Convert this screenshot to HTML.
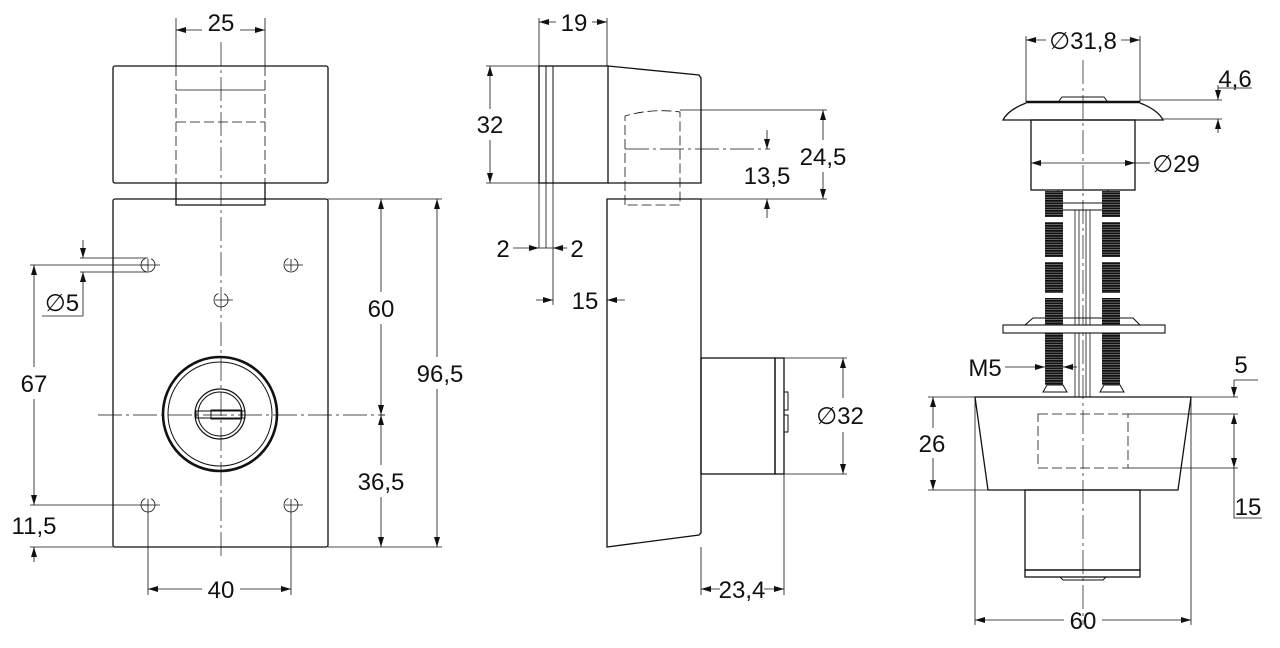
<!DOCTYPE html>
<html><head><meta charset="utf-8"><style>
html,body{margin:0;padding:0;background:#fff}
svg{display:block}
text{font-family:"Liberation Sans",Arial,sans-serif;font-size:24px;fill:#111}
</style></head><body>
<svg width="1280" height="648" viewBox="0 0 1280 648" xmlns="http://www.w3.org/2000/svg">
<defs>
<marker id="a" viewBox="0 0 10 6" refX="10" refY="3" markerWidth="10" markerHeight="6" markerUnits="userSpaceOnUse" orient="auto-start-reverse"><path d="M0,0 L10,3 L0,6 z" fill="#111"/></marker>
<pattern id="th" width="4" height="2.5" patternUnits="userSpaceOnUse"><rect width="4" height="2.5" fill="#888"/><rect width="4" height="1.8" fill="#111"/></pattern>
</defs>
<g fill="none" stroke="#111" stroke-width="1.3">
<!-- LEFT VIEW -->
<rect x="113" y="66" width="215" height="117" rx="2"/>
<rect x="113" y="199" width="215" height="348" rx="2"/>
<path d="M176 183 V205 H265 V183"/>
<path d="M176 18 V66 M265 18 V66" stroke-width="0.8"/>
<g stroke-width="0.8" stroke-dasharray="10,4">
<path d="M176 66 V183 M265 66 V183"/>
<path d="M176 122 H265"/>
</g>
<path d="M176 90 H265" stroke-width="0.8"/>
<path d="M221 42 V560 M98 415 H385" stroke-width="0.7" stroke-dasharray="24,4,3,4"/>
<g stroke-width="0.8">
<circle cx="148" cy="265" r="7" stroke-dasharray="30,6"/><path d="M142 265 H160 M148 259 V271"/>
<circle cx="291" cy="265" r="7" stroke-dasharray="30,6"/><path d="M285 265 H303 M291 259 V271"/>
<circle cx="221" cy="300" r="7" stroke-dasharray="30,6"/><path d="M215 300 H233"/>
<circle cx="148" cy="505" r="7" stroke-dasharray="30,6"/><path d="M142 505 H160 M148 499 V595"/>
<circle cx="291" cy="505" r="7" stroke-dasharray="30,6"/><path d="M285 505 H303 M291 499 V595"/>
</g>
<circle cx="220" cy="414" r="57" stroke-width="2.6"/>
<circle cx="220" cy="414" r="52" stroke-width="1"/>
<circle cx="220" cy="414" r="25" stroke-width="1.2"/>
<circle cx="220" cy="414" r="22" stroke-width="1"/>
<rect x="196" y="411" width="49" height="7" stroke-width="1"/>
<rect x="211" y="410" width="30" height="9" stroke-width="1"/>
<!-- dims left -->
<g stroke-width="0.8">
<path d="M176 30 H202 M240 30 H265" marker-start="url(#a)" marker-end="url(#a)"/>
<path d="M328 199 H442 M328 547 H442 M381 415 H385"/>
<line x1="381" y1="199" x2="381" y2="292" marker-start="url(#a)"/>
<line x1="381" y1="324" x2="381" y2="415" marker-end="url(#a)"/>
<line x1="381" y1="415" x2="381" y2="465" marker-start="url(#a)"/>
<line x1="381" y1="497" x2="381" y2="547" marker-end="url(#a)"/>
<line x1="437" y1="199" x2="437" y2="357" marker-start="url(#a)"/>
<line x1="437" y1="389" x2="437" y2="547" marker-end="url(#a)"/>
<path d="M30 265 H148 M30 505 H148 M30 547 H113"/>
<line x1="34" y1="265" x2="34" y2="367" marker-start="url(#a)"/>
<line x1="34" y1="399" x2="34" y2="505" marker-end="url(#a)"/>
<line x1="34" y1="547" x2="34" y2="562" marker-start="url(#a)"/>
<path d="M80 258 H148 M80 272 H148"/>
<line x1="83" y1="240" x2="83" y2="258" marker-end="url(#a)"/>
<line x1="83" y1="316" x2="83" y2="272" marker-end="url(#a)"/>
<path d="M42 316 H83"/>
<line x1="148" y1="589" x2="202" y2="589" marker-start="url(#a)"/>
<line x1="240" y1="589" x2="291" y2="589" marker-end="url(#a)"/>
</g>
<!-- MIDDLE VIEW -->
<rect x="539" y="66" width="69" height="117"/>
<path d="M546 66 V183 M553 66 V183" stroke-width="1"/>
<path d="M608 66 L699 75 L701 78 V183 H608"/>
<path d="M607 199 H701 V533 L699 535 L607 547 Z"/>
<g stroke-width="0.8" stroke-dasharray="10,4">
<path d="M625 205 V116 Q652 108 680 112 V205 H625"/>
</g>
<path d="M625 149 H770" stroke-width="0.7" stroke-dasharray="24,4,3,4"/>
<rect x="701" y="358" width="74" height="116"/>
<rect x="775" y="358" width="9" height="116" stroke-width="1.3"/>
<path d="M784 392 H788 V410 H784 M784 415 H788 V432 H784" stroke-width="1"/>
<g stroke-width="0.8">
<path d="M539 18 V248 M607 18 V66 M546 183 V248 M553 183 V305"/>
<line x1="539" y1="22" x2="556" y2="22" marker-start="url(#a)"/>
<line x1="592" y1="22" x2="607" y2="22" marker-end="url(#a)"/>
<path d="M486 66 H539 M486 183 H539"/>
<line x1="490" y1="66" x2="490" y2="109" marker-start="url(#a)"/>
<line x1="490" y1="140" x2="490" y2="183" marker-end="url(#a)"/>
<path d="M680 110 H827 M701 199 H827"/>
<line x1="823" y1="110" x2="823" y2="140" marker-start="url(#a)"/>
<line x1="823" y1="172" x2="823" y2="199" marker-end="url(#a)"/>
<line x1="767" y1="130" x2="767" y2="149" marker-end="url(#a)"/>
<line x1="767" y1="218" x2="767" y2="199" marker-end="url(#a)"/>
<line x1="513" y1="248" x2="539" y2="248" marker-end="url(#a)"/>
<path d="M539 248 H553"/>
<line x1="567" y1="248" x2="553" y2="248" marker-end="url(#a)"/>
<line x1="536" y1="300" x2="553" y2="300" marker-end="url(#a)"/>
<line x1="625" y1="300" x2="607" y2="300" marker-end="url(#a)"/>
<path d="M784 358 H847 M784 474 H847"/>
<line x1="843" y1="358" x2="843" y2="398" marker-start="url(#a)"/>
<line x1="843" y1="432" x2="843" y2="474" marker-end="url(#a)"/>
<path d="M701 547 V595 M784 474 V595"/>
<line x1="701" y1="589" x2="720" y2="589" marker-start="url(#a)"/>
<line x1="764" y1="589" x2="784" y2="589" marker-end="url(#a)"/>
</g>
<!-- RIGHT VIEW -->
<path d="M1083 60 V625" stroke-width="0.7" stroke-dasharray="24,4,3,4"/>
<path d="M1026 102 H1140" stroke-width="2.4"/>
<path d="M1059 101 L1062 97 H1104 L1107 101" stroke-width="1"/>
<path d="M1026 103 Q1008 110 1003 120 H1163 Q1158 110 1140 103"/>
<rect x="1031" y="120" width="104" height="70"/>
<rect x="1058" y="190" width="50" height="20" stroke-width="1"/>
<path d="M1058 203 H1108" stroke-width="1"/>
<path d="M1075 210 V397 M1090 210 V397 M1079 210 V397 M1086 210 V397" stroke-width="0.8"/>
<g stroke="none" fill="url(#th)">
<rect x="1045" y="191" width="18" height="26"/><rect x="1045" y="222" width="18" height="35"/><rect x="1045" y="262" width="18" height="31"/><rect x="1045" y="298" width="18" height="87"/>
<rect x="1102" y="191" width="18" height="26"/><rect x="1102" y="222" width="18" height="35"/><rect x="1102" y="262" width="18" height="31"/><rect x="1102" y="298" width="18" height="87"/>
</g>
<path d="M1043 392 L1047 385 H1063 L1067 392 Z M1100 392 L1104 385 H1120 L1124 392 Z" stroke-width="1"/>
<path d="M1025 325 L1033 318 H1133 L1140 325" stroke-width="1.1"/>
<rect x="1003" y="325" width="162" height="8" fill="#fff" stroke-width="1.1"/>
<path d="M975 397 H1191 L1178 490 H988 Z"/>
<rect x="1038" y="414" width="90" height="54" stroke-width="0.8" stroke-dasharray="10,4"/>
<rect x="1025" y="490" width="115" height="80"/>
<rect x="1025" y="570" width="115" height="7"/>
<path d="M1060 577 L1063 580 H1103 L1106 577" stroke-width="1"/>
<g stroke-width="0.8">
<path d="M1026 36 V102 M1140 36 V102"/>
<line x1="1026" y1="40" x2="1046" y2="40" marker-start="url(#a)"/>
<line x1="1121" y1="40" x2="1140" y2="40" marker-end="url(#a)"/>
<path d="M1140 100 H1222 M1163 119 H1222 M1218 88 H1252"/>
<line x1="1218" y1="85" x2="1218" y2="100" marker-end="url(#a)"/>
<line x1="1218" y1="133" x2="1218" y2="119" marker-end="url(#a)"/>
<line x1="1031" y1="163" x2="1135" y2="163" marker-start="url(#a)" marker-end="url(#a)"/>
<path d="M1135 163 H1150"/>
<line x1="1005" y1="367" x2="1045" y2="367" marker-end="url(#a)"/>
<line x1="1077" y1="367" x2="1063" y2="367" marker-end="url(#a)"/>
<path d="M928 397 H975 M928 490 H988"/>
<line x1="933" y1="397" x2="933" y2="428" marker-start="url(#a)"/>
<line x1="933" y1="458" x2="933" y2="490" marker-end="url(#a)"/>
<path d="M1191 397 H1238 M1128 414 H1238 M1128 468 H1238 M1234 468 V518 H1262 M1234 380 H1258"/>
<line x1="1234" y1="380" x2="1234" y2="397" marker-end="url(#a)"/>
<line x1="1234" y1="414" x2="1234" y2="468" marker-start="url(#a)" marker-end="url(#a)"/>
<path d="M975 397 V625 M1191 397 V625"/>
<line x1="975" y1="620" x2="1064" y2="620" marker-start="url(#a)"/>
<line x1="1102" y1="620" x2="1191" y2="620" marker-end="url(#a)"/>
</g>
</g>
<!-- labels -->
<g text-anchor="middle">
<text x="221" y="31">25</text>
<text x="381" y="317">60</text>
<text x="440" y="382">96,5</text>
<text x="381" y="490">36,5</text>
<text x="34" y="392">67</text>
<text x="34" y="534">11,5</text>
<text x="62" y="311">∅5</text>
<text x="221" y="598">40</text>
<text x="574" y="31">19</text>
<text x="490" y="133">32</text>
<text x="823" y="165">24,5</text>
<text x="767" y="184">13,5</text>
<text x="503" y="257">2</text>
<text x="577" y="257">2</text>
<text x="585" y="309">15</text>
<text x="840" y="424">∅32</text>
<text x="742" y="598">23,4</text>
<text x="1083" y="49">∅31,8</text>
<text x="1235" y="87">4,6</text>
<text x="1176" y="172">∅29</text>
<text x="985" y="376">M5</text>
<text x="932" y="452">26</text>
<text x="1241" y="373">5</text>
<text x="1248" y="515">15</text>
<text x="1083" y="629">60</text>
</g>
</svg>
</body></html>
